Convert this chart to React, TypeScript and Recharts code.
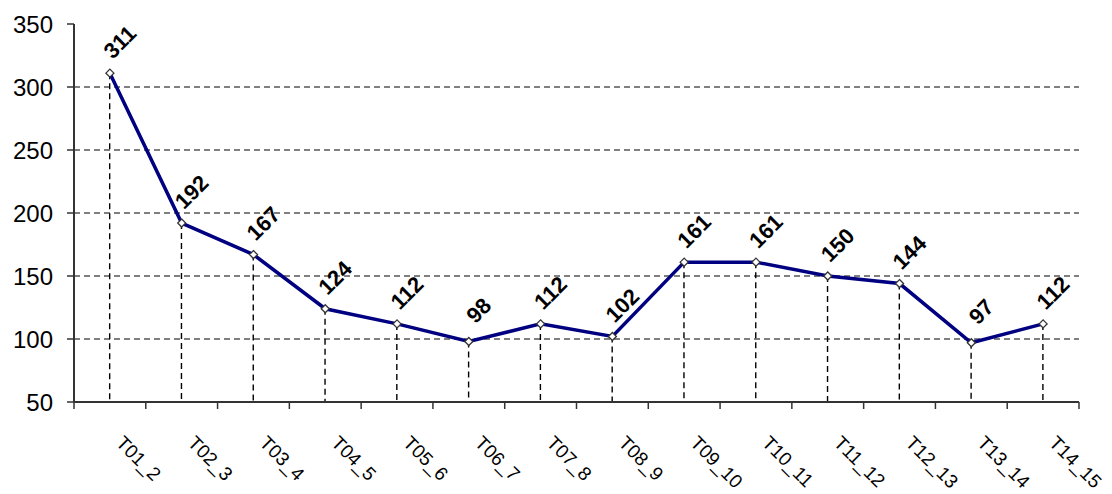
import React from 'react';
import {
  ComposedChart,
  Line,
  Bar,
  XAxis,
  YAxis,
  CartesianGrid,
  LabelList,
} from 'recharts';

const categories = [
  'T01_2', 'T02_3', 'T03_4', 'T04_5', 'T05_6', 'T06_7', 'T07_8',
  'T08_9', 'T09_10', 'T10_11', 'T11_12', 'T12_13', 'T13_14', 'T14_15',
];
const values = [311, 192, 167, 124, 112, 98, 112, 102, 161, 161, 150, 144, 97, 112];
const yTicks = [50, 100, 150, 200, 250, 300, 350];
const gridValues = [100, 150, 200, 250, 300];

const data = categories.map((name, i) => ({ name, value: values[i] }));

const FONT = '"Liberation Sans", Arial, sans-serif';

const CatTick = (props: any) => {
  const { x, y, payload, index } = props;
  const half = payload && typeof payload.offset === 'number' ? payload.offset : 1005 / 14 / 2;
  return (
    <g>
      <line x1={x - half} y1={y} x2={x - half} y2={y + 7} stroke="#333" strokeWidth={1.5} />
      {index === categories.length - 1 && (
        <line x1={x + half} y1={y} x2={x + half} y2={y + 7} stroke="#333" strokeWidth={1.5} />
      )}
      <text
        x={x + 5}
        y={y + 42}
        transform={`rotate(45, ${x + 5}, ${y + 42})`}
        textAnchor="start"
        fontFamily={FONT}
        fontSize={19}
        fill="#000"
      >
        {payload.value}
      </text>
    </g>
  );
};

const DropLine = (props: any) => {
  const { x, y, width, height } = props;
  if (x == null || y == null) return null;
  const cx = x + width / 2;
  return (
    <line
      x1={cx}
      y1={y}
      x2={cx}
      y2={y + height}
      stroke="#000"
      strokeWidth={1.4}
      strokeDasharray="6 4"
    />
  );
};

const Diamond = (props: any) => {
  const { cx, cy, index } = props;
  if (cx == null || cy == null) return <g key={`d-${index}`} />;
  const s = 4;
  return (
    <polygon
      key={`d-${index}`}
      points={`${cx},${cy - s} ${cx + s},${cy} ${cx},${cy + s} ${cx - s},${cy}`}
      fill="#fff"
      stroke="#333"
      strokeWidth={1.3}
    />
  );
};

const ValueLabel = (props: any) => {
  const { x, y, value, index } = props;
  const lx = x + 10;
  const ly = y - 31;
  return (
    <text
      key={`l-${index}`}
      x={lx}
      y={ly}
      transform={`rotate(-45, ${lx}, ${ly})`}
      textAnchor="middle"
      dominantBaseline="central"
      fontFamily={FONT}
      fontSize={22}
      fontWeight="bold"
      fill="#000"
    >
      {value}
    </text>
  );
};

export default function App() {
  return (
    <div style={{ position: 'absolute', left: 0, top: 0, width: 1112, height: 494, background: '#fff' }}>
      <ComposedChart
        width={1112}
        height={494}
        data={data}
        margin={{ top: 24, right: 33, bottom: 0, left: 14 }}
      >
        <CartesianGrid
          vertical={false}
          horizontalValues={gridValues}
          stroke="#000"
          strokeWidth={1}
          strokeDasharray="6 4"
        />
        <XAxis
          dataKey="name"
          type="category"
          height={92}
          interval={0}
          tickLine={false}
          tickSize={0}
          tickMargin={0}
          tick={<CatTick />}
          axisLine={{ stroke: '#333', strokeWidth: 2 }}
        />
        <XAxis
          xAxisId="top"
          orientation="top"
          dataKey="name"
          height={0}
          tick={false}
          tickLine={false}
          axisLine={{ stroke: '#888', strokeWidth: 2 }}
        />
        <YAxis
          width={60}
          domain={[50, 350]}
          ticks={yTicks}
          interval={0}
          tickSize={7}
          tickMargin={14}
          tickLine={{ stroke: '#333', strokeWidth: 1.5 }}
          axisLine={{ stroke: '#333', strokeWidth: 2 }}
          tick={{ fontFamily: FONT, fontSize: 24, fill: '#000' }}
          allowDataOverflow
        />
        <YAxis
          yAxisId="right"
          orientation="right"
          width={0}
          domain={[50, 350]}
          tick={false}
          tickLine={false}
          axisLine={{ stroke: '#888', strokeWidth: 2 }}
        />
        <Bar dataKey="value" shape={<DropLine />} isAnimationActive={false} />
        <Line
          dataKey="value"
          stroke="#000080"
          strokeWidth={3.5}
          dot={Diamond}
          activeDot={false}
          isAnimationActive={false}
        >
          <LabelList dataKey="value" content={ValueLabel} />
        </Line>
      </ComposedChart>
    </div>
  );
}
